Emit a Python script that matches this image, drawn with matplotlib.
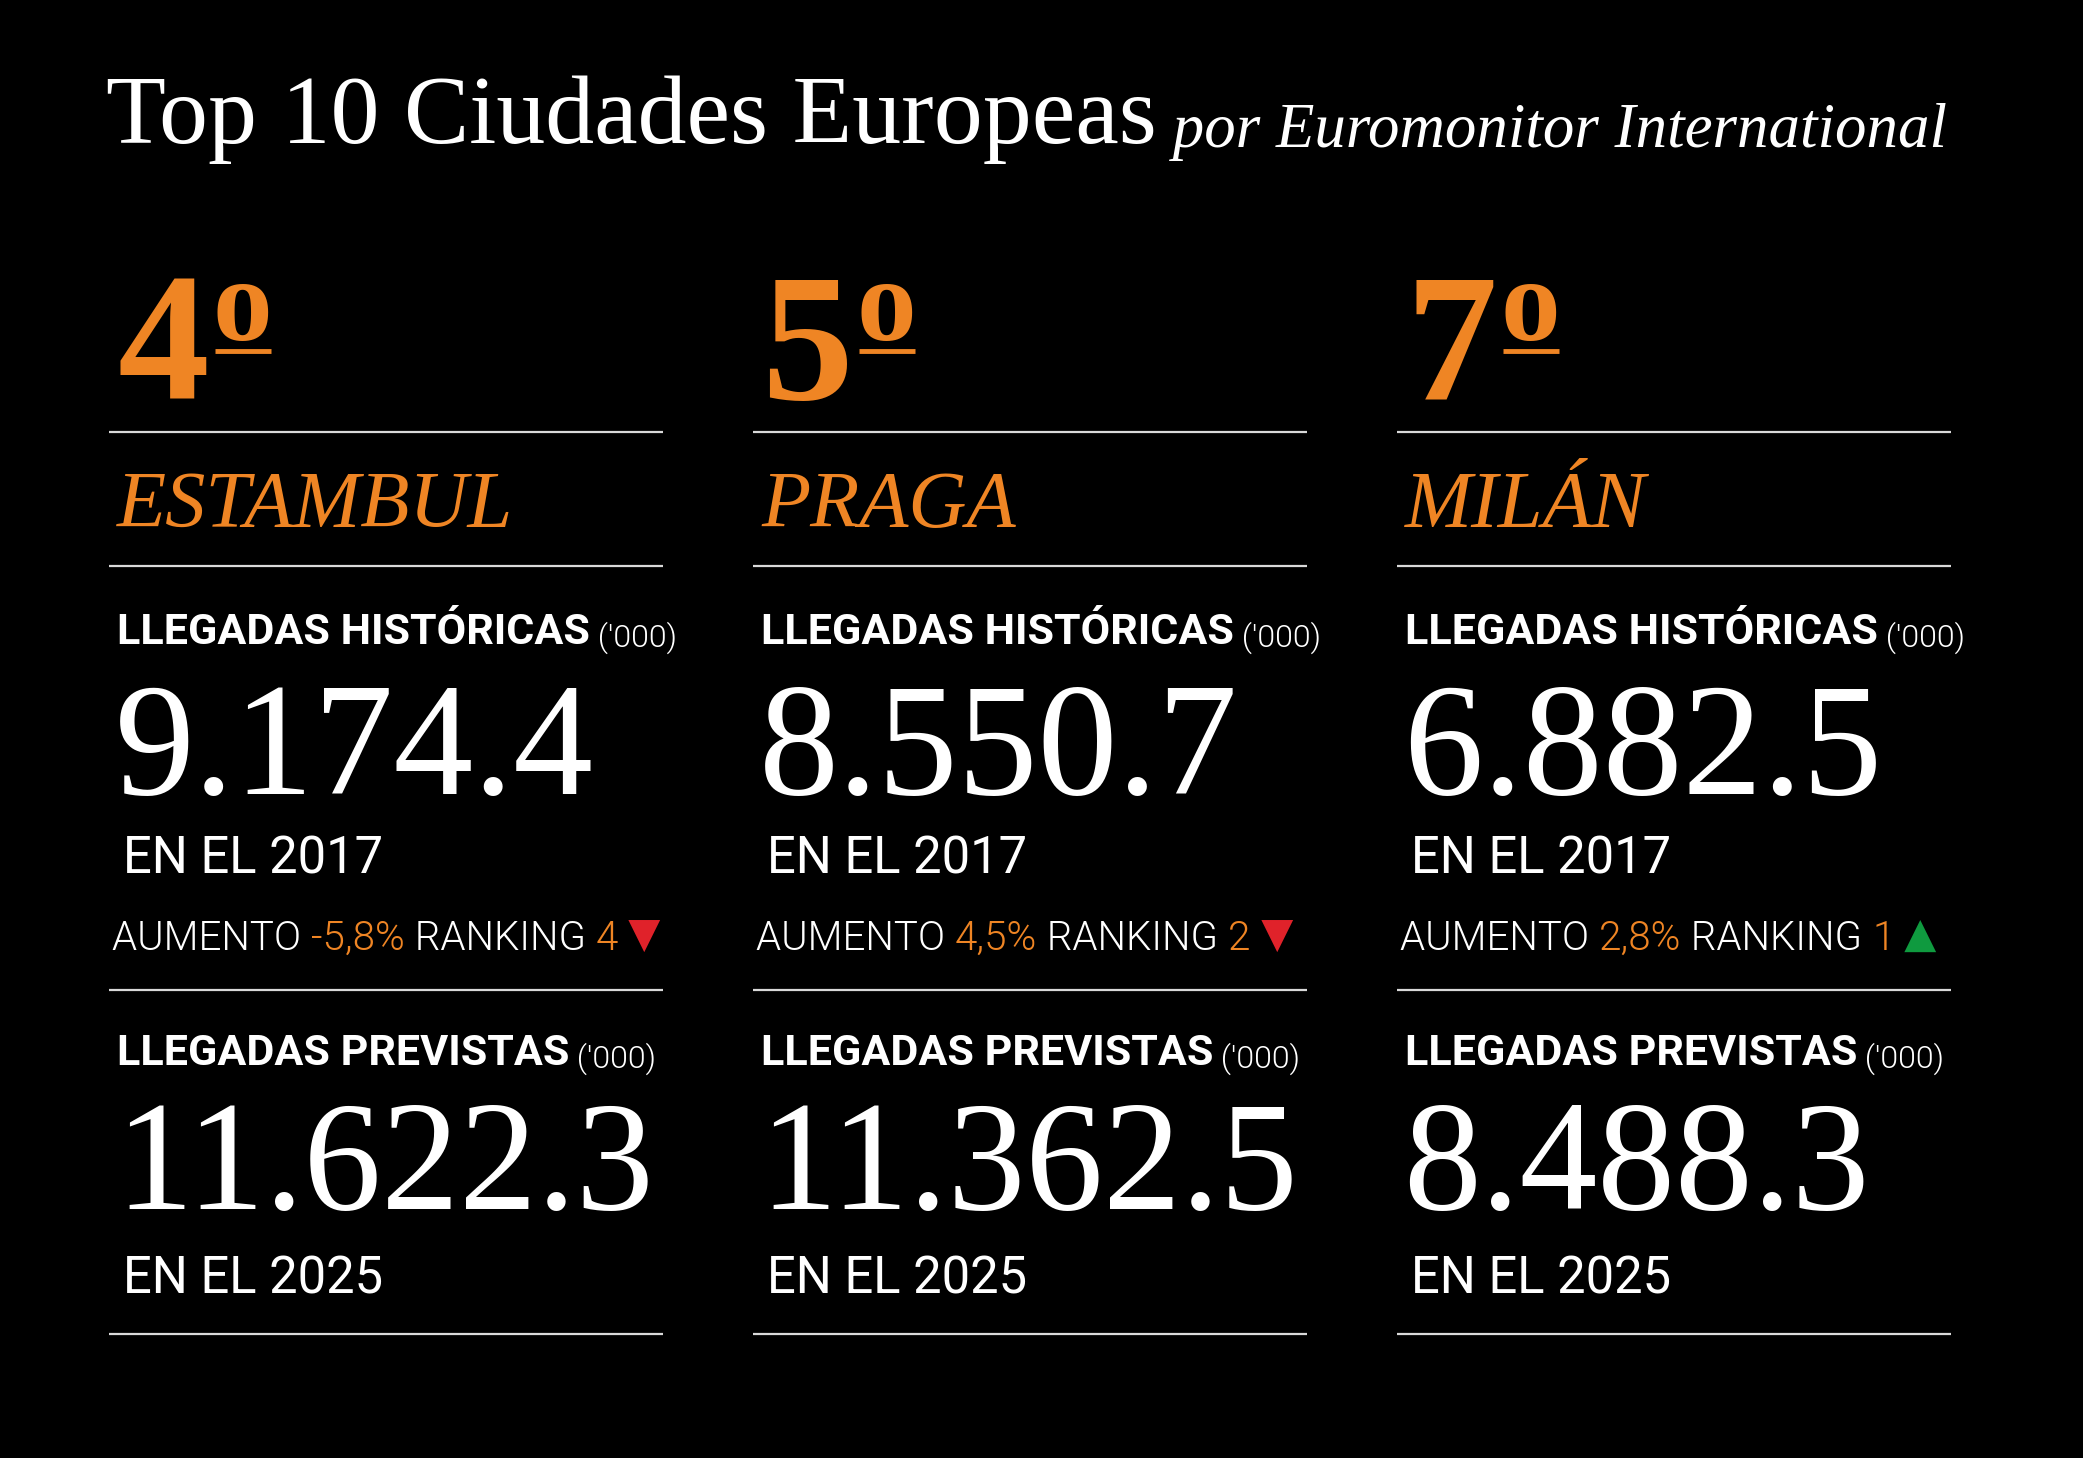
import matplotlib
matplotlib.use('Agg')
from matplotlib import pyplot as plt

# data
cities = ['ESTAMBUL', 'PRAGA', 'MILÁN']
ranks = [4, 5, 7]
hist_values = ['9.174.4', '8.550.7', '6.882.5']
hist_year = 'EN EL 2017'
growth = ['-5,8%', '4,5%', '2,8%']
prev_rank = ['4', '2', '1']
trend = ['down', 'down', 'up']
forecast_values = ['11.622.3', '11.362.5', '8.488.3']
forecast_year = 'EN EL 2025'

ORANGE = '#ef8524'
RED = '#e0222a'
GREEN = '#0f9a3f'
SERIF = 'Liberation Serif'
SANS = 'Roboto'

W, H = 2083, 1458
fig = plt.figure(figsize=(W / 100, H / 100), dpi=100, facecolor='black')
ax = fig.add_axes([0, 0, 1, 1])
ax.set_xlim(0, W)
ax.set_ylim(H, 0)
ax.axis('off')
ax.set_facecolor('black')
renderer = fig.canvas.get_renderer()
inv = ax.transData.inverted()


def data_box(artist):
    bb = artist.get_window_extent(renderer)
    (x0, y0), (x1, y1) = inv.transform([(bb.x0, bb.y0), (bb.x1, bb.y1)])
    return x0, x1


# title
t = ax.text(106, 143, 'Top 10 Ciudades Europeas', color='white', family=SERIF,
            fontsize=70.5, va='baseline', ha='left')
ax.annotate(' por Euromonitor International', xy=(1, 0), xycoords=t,
            color='white', family=SERIF, style='italic', fontsize=45.3,
            va='bottom', ha='left', xytext=(0, 2), textcoords='offset points')

col_x = [109, 753, 1397]
col_w = 554
line_y = [432, 566, 990, 1334]


def chain(parts, x, y, size, weight):
    prev = None
    for txt, col in parts:
        if prev is None:
            prev = ax.text(x, y, txt, color=col, family=SANS, fontsize=size,
                           fontweight=weight, va='baseline', ha='left')
        else:
            prev = ax.annotate(txt, xy=(1, 0), xycoords=prev, color=col,
                               family=SANS, fontsize=size, fontweight=weight,
                               va='bottom', ha='left')
    return prev


for i in range(3):
    x0 = col_x[i]
    tx = x0 + 8
    ax.hlines(line_y, x0, x0 + col_w, color='#d9d9d9', lw=1.6)

    # rank with ordinal sign
    d = ax.text(tx, 399, str(ranks[i]), color=ORANGE, family=SERIF,
                fontweight='bold', fontsize=132, va='baseline', ha='left')
    dx0, dx1 = data_box(d)
    o = ax.text(dx1 + 4, 340, 'o', color=ORANGE, family=SERIF,
                fontweight='bold', fontsize=86, va='baseline', ha='left')
    ox0, ox1 = data_box(o)
    ax.hlines(351, ox0 + 2, ox1 - 1, color=ORANGE, lw=3.5)

    ax.text(tx, 527, cities[i], color=ORANGE, family=SERIF, style='italic',
            fontsize=58, va='baseline', ha='left')

    h = chain([('LLEGADAS HISTÓRICAS', 'white')], tx, 644, 31, 'bold')
    ax.annotate(" ('000)", xy=(1, 0), xycoords=h, color='white', family=SANS,
                fontsize=23, fontweight=300, va='bottom', ha='left',
                xytext=(0, -1), textcoords='offset points')
    ax.text(tx - 2, 794, hist_values[i], color='white', family=SERIF,
            fontsize=115, va='baseline', ha='left')
    ax.text(tx + 6, 873, hist_year, color='white', family=SANS, fontsize=36.5,
            va='baseline', ha='left')

    last = chain([('AUMENTO ', 'white'), (growth[i], ORANGE),
                  (' RANKING ', 'white'), (prev_rank[i], ORANGE)],
                 tx - 5, 950, 29, 300)
    sym = '▼' if trend[i] == 'down' else '▲'
    ax.annotate(' ' + sym, xy=(1, 0), xycoords=last,
                color=RED if trend[i] == 'down' else GREEN,
                family='DejaVu Sans', fontsize=30, va='bottom', ha='left',
                xytext=(-2, 1), textcoords='offset points')

    h = chain([('LLEGADAS PREVISTAS', 'white')], tx, 1065, 31, 'bold')
    ax.annotate(" ('000)", xy=(1, 0), xycoords=h, color='white', family=SANS,
                fontsize=23, fontweight=300, va='bottom', ha='left',
                xytext=(0, -1), textcoords='offset points')
    ax.text(tx - 2, 1209, forecast_values[i], color='white', family=SERIF,
            fontsize=112, va='baseline', ha='left')
    ax.text(tx + 6, 1293, forecast_year, color='white', family=SANS,
            fontsize=36.5, va='baseline', ha='left')

fig.savefig('out.png', dpi=100, facecolor='black')
